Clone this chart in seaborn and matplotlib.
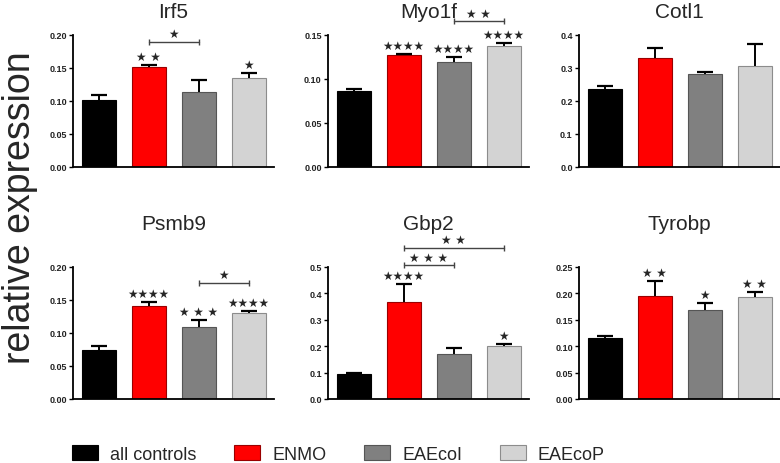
import numpy as np
import pandas as pd
import matplotlib
matplotlib.use('Agg')
import matplotlib.pyplot as plt
from matplotlib.patches import Patch
import seaborn as sns

groups = ['all controls', 'ENMO', 'EAEcoI', 'EAEcoP']
colors = ['#000000', '#ff0000', '#808080', '#d3d3d3']
edges = ['#000000', '#9a0000', '#555555', '#8c8c8c']

genes = ['Irf5', 'Myo1f', 'Cotl1', 'Psmb9', 'Gbp2', 'Tyrobp']

irf5_mean = [0.102, 0.152, 0.114, 0.135]
irf5_sem = [0.007, 0.002, 0.018, 0.007]
myo1f_mean = [0.086, 0.127, 0.119, 0.137]
myo1f_sem = [0.003, 0.0015, 0.006, 0.004]
cotl1_mean = [0.235, 0.329, 0.281, 0.306]
cotl1_sem = [0.009, 0.032, 0.008, 0.068]
psmb9_mean = [0.075, 0.141, 0.109, 0.130]
psmb9_sem = [0.005, 0.006, 0.011, 0.0035]
gbp2_mean = [0.094, 0.367, 0.172, 0.200]
gbp2_sem = [0.006, 0.067, 0.021, 0.007]
tyrobp_mean = [0.116, 0.196, 0.169, 0.194]
tyrobp_sem = [0.004, 0.027, 0.013, 0.008]

# y axis: top, step, decimals
irf5_ticks = (0.20, 0.05, 2)
myo1f_ticks = (0.15, 0.05, 2)
cotl1_ticks = (0.4, 0.1, 1)
psmb9_ticks = (0.20, 0.05, 2)
gbp2_ticks = (0.5, 0.1, 1)
tyrobp_ticks = (0.25, 0.05, 2)

# stars vs controls
irf5_sig = ['', '★ ★', '', '★']
myo1f_sig = ['', '★★★★', '★★★★', '★★★★']
cotl1_sig = ['', '', '', '']
psmb9_sig = ['', '★★★★', '★ ★ ★', '★★★★']
gbp2_sig = ['', '★★★★', '', '★']
tyrobp_sig = ['', '★ ★', '★', '★ ★']

# pairwise brackets: (bar a, bar b, height, stars)
irf5_pairs = [(1, 2, 0.190, '★')]
myo1f_pairs = [(2, 3, 0.166, '★ ★')]
cotl1_pairs = []
psmb9_pairs = [(2, 3, 0.176, '★')]
gbp2_pairs = [(1, 2, 0.508, '★ ★ ★'), (1, 3, 0.573, '★ ★')]
tyrobp_pairs = []

panels = [
    (irf5_mean, irf5_sem, irf5_ticks, irf5_sig, irf5_pairs),
    (myo1f_mean, myo1f_sem, myo1f_ticks, myo1f_sig, myo1f_pairs),
    (cotl1_mean, cotl1_sem, cotl1_ticks, cotl1_sig, cotl1_pairs),
    (psmb9_mean, psmb9_sem, psmb9_ticks, psmb9_sig, psmb9_pairs),
    (gbp2_mean, gbp2_sem, gbp2_ticks, gbp2_sig, gbp2_pairs),
    (tyrobp_mean, tyrobp_sem, tyrobp_ticks, tyrobp_sig, tyrobp_pairs),
]

sns.set_style('ticks')
plt.rcParams['font.family'] = ['Liberation Sans', 'DejaVu Sans']

W, H = 780, 464
fig = plt.figure(figsize=(W / 100, H / 100), dpi=100)

lefts = [73, 328, 579]
tops = [36, 268]
aw, ah = 201, 132
title_pad = [13.3, 27]


def draw_panel(ax, name, mean, sem, ticks, sig, pairs, pad):
    df = pd.DataFrame({'group': groups, 'value': mean})
    sns.barplot(data=df, x='group', y='value', hue='group', order=groups,
                hue_order=groups, palette=colors, saturation=1, width=0.68,
                ax=ax, legend=False, errorbar=None)
    for p, ec in zip(ax.patches, edges):
        p.set_edgecolor(ec)
        p.set_linewidth(0.8)
    x = np.arange(len(groups))
    eb = ax.errorbar(x, mean, yerr=[np.zeros(len(sem)), sem], fmt='none',
                     ecolor='black', elinewidth=1.4, capsize=5.5,
                     capthick=1.6, zorder=1.5)
    eb[1][0].set_visible(False)

    top, step, dec = ticks
    ax.set_xlim(-0.51, 3.51)
    ax.set_ylim(0, top)
    yt = np.arange(0, top + step / 2, step)
    ax.set_yticks(yt)
    ax.set_yticklabels([f'{v:.{dec}f}' for v in yt], fontsize=6.5,
                       fontweight='bold', color='#222222')
    ax.set_xticks([])
    ax.set_xlabel('')
    ax.set_ylabel('')
    sns.despine(ax=ax)
    for s in ['left', 'bottom']:
        ax.spines[s].set_linewidth(1.3)
        ax.spines[s].set_color('black')
    ax.tick_params(axis='y', length=3, width=1, pad=1.5, color='black')
    ax.set_title(name, fontsize=15, pad=pad)

    for xi, m, e, s in zip(x, mean, sem, sig):
        if s:
            ax.annotate(s, (xi, m + e), xytext=(0, 1.5),
                        textcoords='offset points', ha='center', va='bottom',
                        fontsize=8.5, family=['DejaVu Sans'],
                        annotation_clip=False)
    for a, b, yb, s in pairs:
        ax.plot([a, b], [yb, yb], color='#444444', lw=1, marker='|',
                markersize=4.5, markeredgewidth=1, clip_on=False)
        ax.annotate(s, ((a + b) / 2, yb), xytext=(0, 1),
                    textcoords='offset points', ha='center', va='bottom',
                    fontsize=8.5, family=['DejaVu Sans'],
                    annotation_clip=False)


for i, (name, (mean, sem, ticks, sig, pairs)) in enumerate(zip(genes, panels)):
    row, col = divmod(i, 3)
    ax = fig.add_axes([lefts[col] / W, 1 - (tops[row] + ah) / H, aw / W, ah / H])
    draw_panel(ax, name, mean, sem, ticks, sig, pairs, title_pad[row])

fig.text(20 / W, 1 - 208 / H, 'relative expression', rotation=90,
         fontsize=27, ha='center', va='center')

handles = [Patch(facecolor=c, edgecolor=e, linewidth=0.8)
           for c, e in zip(colors, edges)]
fig.legend(handles, groups, loc='center left', bbox_to_anchor=(72 / W, 9 / H),
           ncol=4, frameon=False, fontsize=13, handlelength=1.45,
           handleheight=0.85, handletextpad=0.65, columnspacing=2.1,
           borderpad=0, borderaxespad=0)

fig.savefig('out.png', dpi=100)
